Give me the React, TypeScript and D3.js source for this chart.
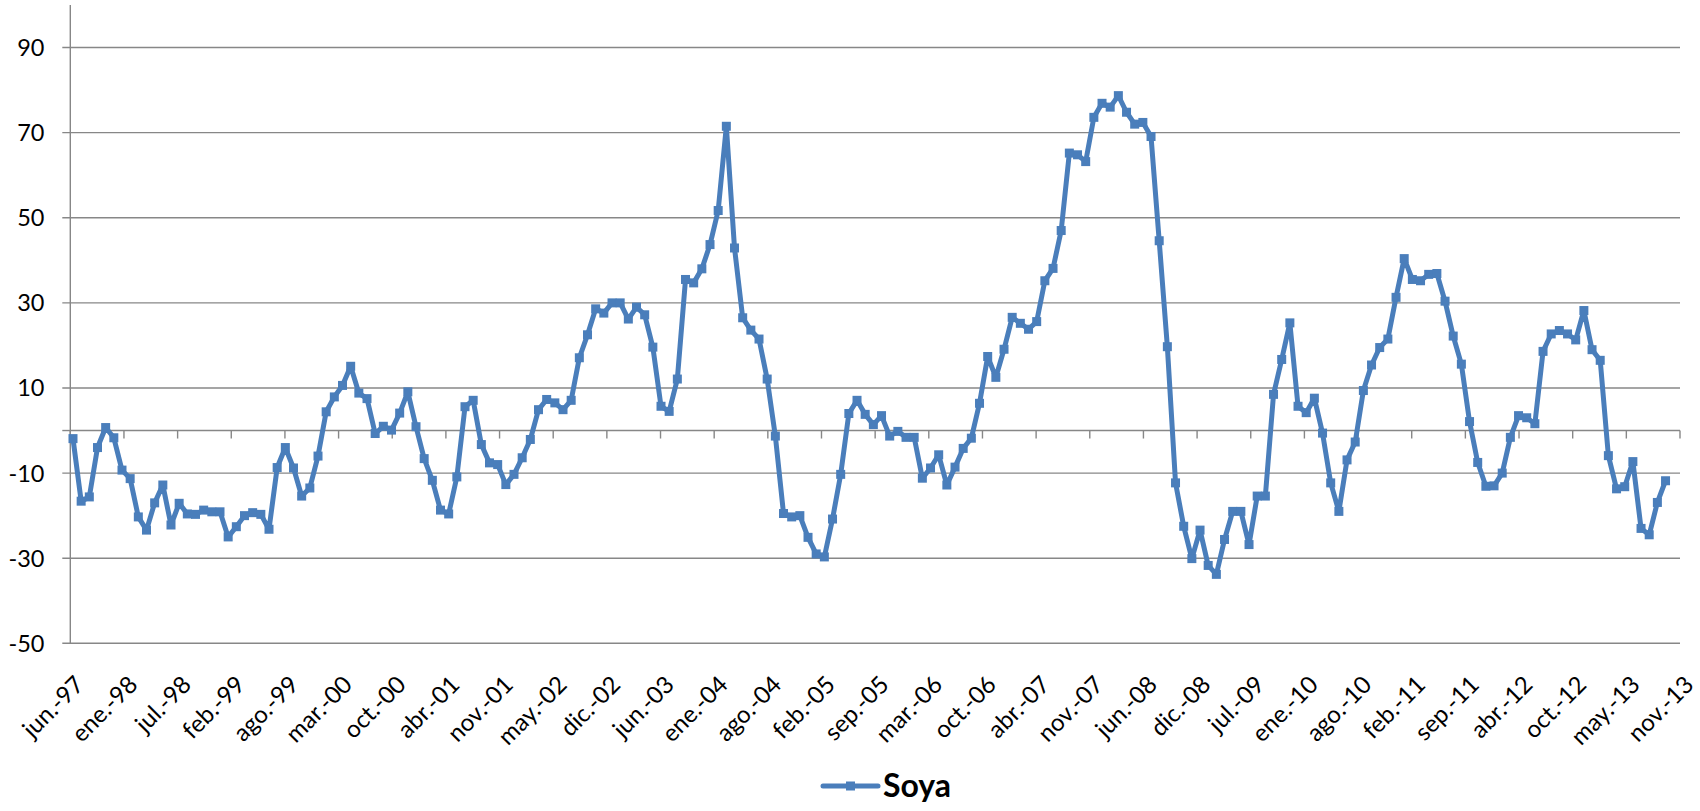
import React from "react";
import * as d3 from "d3";

// Monthly values, jun-97 .. sep-13
const soya: number[] = [
  -1.9, -16.6, -15.6, -4.0, 0.7, -1.7, -9.3, -11.3, -20.3, -23.4,
  -17.0, -12.8, -22.2, -17.1, -19.6, -19.7, -18.7, -19.1, -19.1, -25.0,
  -22.6, -20.0, -19.3, -19.7, -23.2, -8.7, -4.0, -8.8, -15.4, -13.5,
  -6.0, 4.4, 7.9, 10.6, 15.1, 8.8, 7.5, -0.7, 1.0, 0.1,
  4.1, 9.1, 0.9, -6.6, -11.7, -18.7, -19.6, -10.9, 5.6, 7.1,
  -3.3, -7.6, -8.0, -12.7, -10.3, -6.4, -2.1, 4.9, 7.3, 6.5,
  4.9, 7.1, 17.1, 22.5, 28.6, 27.6, 30.0, 30.0, 26.2, 29.0,
  27.2, 19.6, 5.7, 4.5, 12.1, 35.5, 34.7, 38.0, 43.7, 51.7,
  71.5, 42.9, 26.5, 23.6, 21.5, 12.1, -1.3, -19.5, -20.3, -20.0,
  -25.1, -29.0, -29.7, -20.8, -10.3, 4.0, 7.1, 3.8, 1.4, 3.5,
  -1.3, -0.2, -1.6, -1.6, -11.2, -8.8, -5.7, -12.8, -8.6, -4.2,
  -1.8, 6.4, 17.4, 12.5, 19.1, 26.6, 25.2, 23.8, 25.6, 35.2,
  38.1, 47.0, 65.2, 64.8, 63.2, 73.6, 76.9, 76.0, 78.7, 74.8,
  72.0, 72.4, 69.1, 44.6, 19.7, -12.3, -22.5, -30.1, -23.4, -31.7,
  -33.8, -25.6, -19.0, -19.0, -26.8, -15.4, -15.4, 8.5, 16.7, 25.3,
  5.7, 4.2, 7.6, -0.6, -12.3, -19.0, -6.9, -2.7, 9.4, 15.4,
  19.5, 21.5, 31.3, 40.4, 35.5, 35.2, 36.7, 36.9, 30.4, 22.2,
  15.6, 2.1, -7.5, -13.1, -13.0, -10.0, -1.6, 3.5, 3.0, 1.6,
  18.6, 22.7, 23.5, 22.7, 21.3, 28.2, 19.0, 16.5, -5.9, -13.7,
  -13.2, -7.3, -23.0, -24.5, -16.9, -11.8,
];

const xTickLabels: string[] = [
  "jun.-97", "ene.-98", "jul.-98", "feb.-99", "ago.-99", "mar.-00", "oct.-00",
  "abr.-01", "nov.-01", "may.-02", "dic.-02", "jun.-03", "ene.-04", "ago.-04",
  "feb.-05", "sep.-05", "mar.-06", "oct.-06", "abr.-07", "nov.-07", "jun.-08",
  "dic.-08", "jul.-09", "ene.-10", "ago.-10", "feb.-11", "sep.-11", "abr.-12",
  "oct.-12", "may.-13", "nov.-13",
];

const yTicks: number[] = [90, 70, 50, 30, 10, -10, -30, -50];
const seriesName = "Soya";

// axis extent in month units (date axis with 200-day major unit)
const X_MIN = -0.33;
const X_MAX = 196.77;

const W = 1700;
const H = 811;
const left = 70.3;
const right = 1680;
const top = 5;
const bottom = 643.3;

const LINE = "#4A7EBB";
const GRID = "#878787";
const FONT = "Lato, 'Noto Sans', sans-serif";

export default function App() {
  const x = d3.scaleLinear().domain([X_MIN, X_MAX]).range([left, right]);
  const y = d3.scaleLinear().domain([-50, 100]).range([bottom, top]);
  const line = d3
    .line<number>()
    .x((_, i) => x(i))
    .y((d) => y(d));
  const nT = xTickLabels.length - 1;
  const tickPos = xTickLabels.map((_, k) => X_MIN + (k * (X_MAX - X_MIN)) / nT);
  const y0 = y(0);
  const ms = 9;

  return (
    <svg
      width={W}
      height={H}
      style={{ position: "absolute", left: 0, top: 0, background: "#fff" }}
      fontFamily={FONT}
    >
      <rect x={0} y={0} width={W} height={H} fill="#fff" />
      {/* gridlines */}
      {yTicks.map((t) => (
        <g key={t}>
          <line x1={left - 8} x2={right} y1={y(t)} y2={y(t)} stroke={GRID} strokeWidth={1.4} />
          <text x={44.5} y={y(t)} dy="0.36em" textAnchor="end" fontSize={23.5} fill="#000">
            {t}
          </text>
        </g>
      ))}
      {/* y axis */}
      <line x1={left} x2={left} y1={top} y2={bottom} stroke={GRID} strokeWidth={1.4} />
      <line x1={left - 8} x2={left} y1={y0} y2={y0} stroke={GRID} strokeWidth={1.4} />
      {/* x axis at zero */}
      <line x1={left} x2={right} y1={y0} y2={y0} stroke={GRID} strokeWidth={1.4} />
      {tickPos.map((p, k) => (
        <line key={k} x1={x(p)} x2={x(p)} y1={y0} y2={y0 + 8} stroke={GRID} strokeWidth={1.4} />
      ))}
      {/* x labels */}
      {tickPos.map((p, k) => (
        <text
          key={k}
          transform={`translate(${x(p) + 9},${680}) rotate(-45)`}
          textAnchor="end"
          dy="0.36em"
          fontSize={24}
          fill="#000"
        >
          {xTickLabels[k]}
        </text>
      ))}
      {/* series */}
      <path
        d={line(soya) || ""}
        fill="none"
        stroke={LINE}
        strokeWidth={5}
        strokeLinejoin="round"
        strokeLinecap="round"
      />
      {soya.map((v, i) => (
        <rect
          key={i}
          x={x(i) - ms / 2}
          y={y(v) - ms / 2}
          width={ms}
          height={ms}
          fill={LINE}
        />
      ))}
      {/* legend */}
      <line x1={823} x2={878} y1={786} y2={786} stroke={LINE} strokeWidth={5} strokeLinecap="round" />
      <rect x={850.5 - ms / 2} y={786 - ms / 2} width={ms} height={ms} fill={LINE} />
      <text x={883} y={797} fontSize={32} fontWeight="bold" fill="#000">
        {seriesName}
      </text>
    </svg>
  );
}
